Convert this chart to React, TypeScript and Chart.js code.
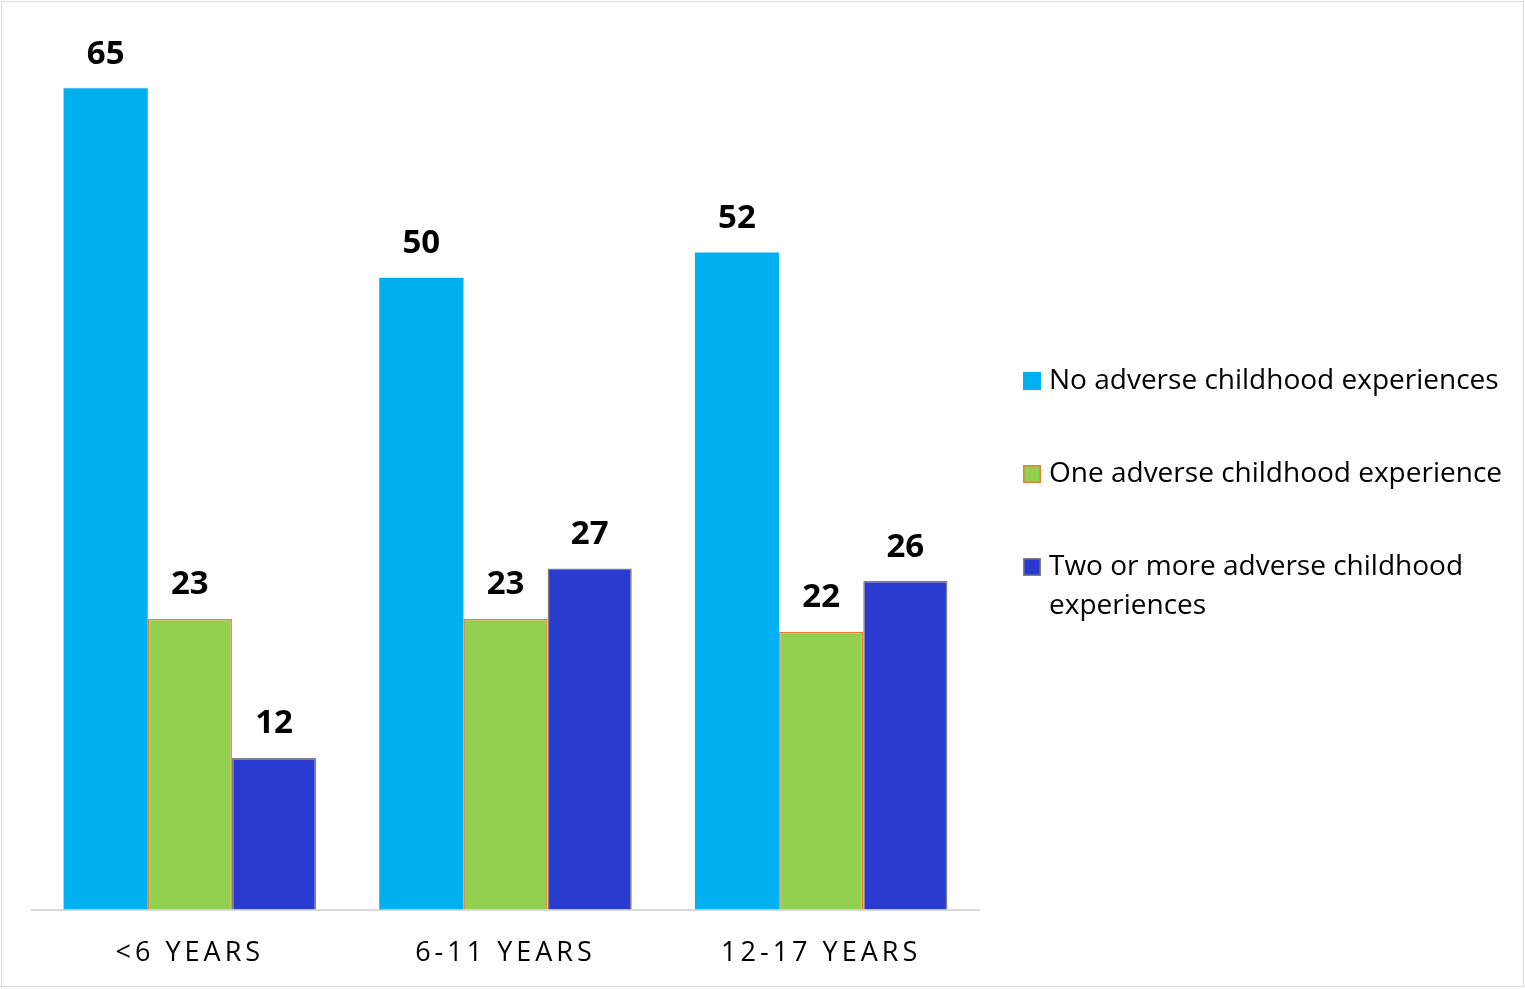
import React, { useEffect, useRef } from "react";
import { Chart, registerables } from "chart.js";

Chart.register(...registerables);

// Age groups along the x axis
const categories = ["<6 YEARS", "6-11 YEARS", "12-17 YEARS"];

// Share of children (%) by number of adverse childhood experiences
const seriesNames = [
  "No adverse childhood experiences",
  "One adverse childhood experience",
  "Two or more adverse childhood experiences",
];
const noAce = [65, 50, 52];
const oneAce = [23, 23, 22];
const twoPlusAce = [12, 27, 26];

const fills = ["#00B0F0", "#92D050", "#293BCF"];
const edges = ["#00B0F0", "#ED7D31", "#7F7F7F"];
const edgeWidths = [0, 1.5, 1.5];

const W = 1525;
const H = 989;
const FONT = "'Open Sans', 'Noto Sans', sans-serif";

// Letter-spaced category labels on the x axis
const tickSpacing = {
  id: "tickSpacing",
  beforeDraw(chart: any) {
    chart.ctx.letterSpacing = "4px";
  },
  beforeDatasetsDraw(chart: any) {
    chart.ctx.letterSpacing = "0px";
  },
};

// Bold value labels above every bar
const valueLabels = {
  id: "valueLabels",
  afterDatasetsDraw(chart: any) {
    const ctx = chart.ctx;
    ctx.save();
    ctx.letterSpacing = "0px";
    ctx.font = `bold 33px ${FONT}`;
    ctx.fillStyle = "#000000";
    ctx.textAlign = "center";
    ctx.textBaseline = "middle";
    chart.data.datasets.forEach((ds: any, di: number) => {
      const meta = chart.getDatasetMeta(di);
      meta.data.forEach((bar: any, i: number) => {
        ctx.fillText(String(ds.data[i]), bar.x, bar.y - 34);
      });
    });
    ctx.restore();
  },
};

// Legend on the right, with wrapping for long entries
const sideLegend = {
  id: "sideLegend",
  afterDraw(chart: any) {
    const ctx = chart.ctx;
    const boxX = 1023;
    const textX = 1049;
    const firstY = 381;
    const itemGap = 93;
    const lineGap = 39;
    const maxWidth = 462;
    ctx.save();
    ctx.letterSpacing = "0px";
    ctx.font = `28px ${FONT}`;
    ctx.textAlign = "left";
    ctx.textBaseline = "middle";
    chart.data.datasets.forEach((ds: any, di: number) => {
      const y = firstY + di * itemGap;
      ctx.fillStyle = ds.backgroundColor;
      ctx.fillRect(boxX, y - 9, 18, 18);
      if (ds.borderWidth > 0) {
        ctx.strokeStyle = ds.borderColor;
        ctx.lineWidth = 1.5;
        ctx.strokeRect(boxX + 0.75, y - 8.25, 16.5, 16.5);
      }
      const words = String(ds.label).split(" ");
      const lines: string[] = [];
      let cur = "";
      words.forEach((w) => {
        const trial = cur ? cur + " " + w : w;
        if (ctx.measureText(trial).width > maxWidth && cur) {
          lines.push(cur);
          cur = w;
        } else {
          cur = trial;
        }
      });
      if (cur) lines.push(cur);
      ctx.fillStyle = "#000000";
      lines.forEach((ln, li) => ctx.fillText(ln, textX, y + li * lineGap));
    });
    ctx.restore();
  },
};

export default function App() {
  const canvasRef = useRef<HTMLCanvasElement | null>(null);

  useEffect(() => {
    if (!canvasRef.current) return;
    const values = [noAce, oneAce, twoPlusAce];
    const chart = new Chart(canvasRef.current, {
      type: "bar",
      data: {
        labels: categories,
        datasets: seriesNames.map((name, i) => ({
          label: name,
          data: values[i],
          backgroundColor: fills[i],
          borderColor: edges[i],
          borderWidth: edgeWidths[i],
          categoryPercentage: 0.8,
          barPercentage: 1.0,
        })),
      },
      options: {
        responsive: false,
        animation: false,
        layout: { padding: { left: 32, right: 546, top: 10, bottom: -9 } },
        plugins: {
          legend: { display: false },
          tooltip: { enabled: false },
        },
        scales: {
          x: {
            grid: { display: false, drawTicks: false },
            border: { display: true, color: "#D9D9D9", width: 2 },
            ticks: {
              color: "#000000",
              font: { family: FONT, size: 27 },
              padding: 28,
              autoSkip: false,
              maxRotation: 0,
            },
          },
          y: {
            display: false,
            min: 0,
            max: 71.2,
          },
        },
      },
      plugins: [tickSpacing, valueLabels, sideLegend],
    });
    return () => chart.destroy();
  }, []);

  return (
    <div style={{ position: "fixed", left: 0, top: 0, width: W, height: H, background: "#ffffff" }}>
      <canvas ref={canvasRef} width={W} height={H} style={{ position: "absolute", left: 0, top: 0 }} />
      <div
        style={{
          position: "absolute",
          left: 1,
          top: 1,
          width: 1521,
          height: 984,
          border: "1px solid #D9D9D9",
          pointerEvents: "none",
        }}
      />
    </div>
  );
}
